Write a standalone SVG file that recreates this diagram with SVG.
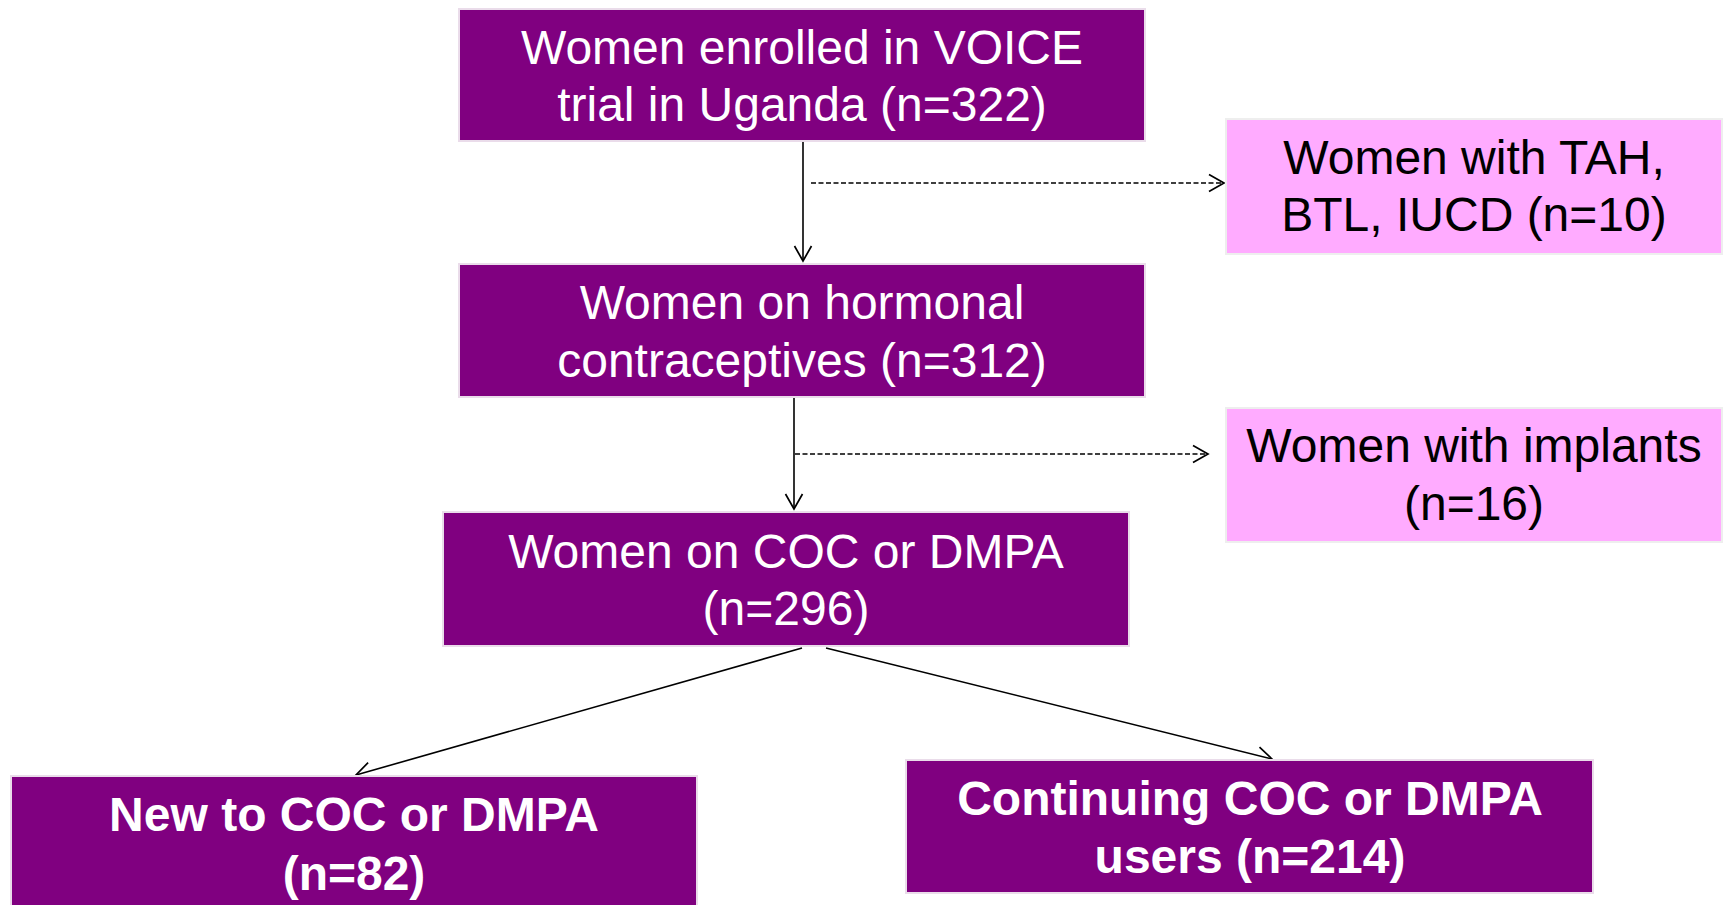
<svg xmlns="http://www.w3.org/2000/svg" width="1727" height="905" viewBox="0 0 1727 905">
<style>
.main{fill:#800080;stroke:#eadcea;stroke-width:2}
.side{fill:#FFABFF;stroke:#eeeeee;stroke-width:2}
.tw{font-family:"Liberation Sans",Arial,sans-serif;font-size:48px;fill:#ffffff;text-anchor:middle}
.tb{font-family:"Liberation Sans",Arial,sans-serif;font-size:48px;fill:#000000;text-anchor:middle}
.bold{font-weight:bold}
.ln{stroke:#000;stroke-width:1.6;fill:none}
.dash{stroke-dasharray:5 2.5}
</style>
<defs>
<marker id="arr" markerWidth="22" markerHeight="22" refX="16" refY="10" orient="auto" markerUnits="userSpaceOnUse">
<path d="M1,1.5 L16,10 L1,18.5" fill="none" stroke="#000" stroke-width="1.7"/>
</marker>
</defs>
<g id="connectors">
<line class="ln" x1="803" y1="141" x2="803" y2="261" marker-end="url(#arr)"/>
<line class="ln dash" x1="811" y1="183" x2="1224" y2="183" marker-end="url(#arr)"/>
<line class="ln" x1="794" y1="397" x2="794" y2="509" marker-end="url(#arr)"/>
<line class="ln dash" x1="795" y1="454" x2="1208" y2="454" marker-end="url(#arr)"/>
<line class="ln" x1="802" y1="648" x2="356" y2="775" marker-end="url(#arr)"/>
<line class="ln" x1="826" y1="648" x2="1272" y2="759" marker-end="url(#arr)"/>
</g>
<g id="n1">
<rect class="main" x="459" y="9" width="686" height="132"/>
<text class="tw" x="802" y="64">Women enrolled in VOICE</text>
<text class="tw" x="802" y="121">trial in Uganda (n=322)</text>
</g>
<g id="n2">
<rect class="side" x="1226" y="119" width="496" height="135"/>
<text class="tb" x="1474" y="174">Women with TAH,</text>
<text class="tb" x="1474" y="231">BTL, IUCD (n=10)</text>
</g>
<g id="n3">
<rect class="main" x="459" y="264" width="686" height="133"/>
<text class="tw" x="802" y="319">Women on hormonal</text>
<text class="tw" x="802" y="377">contraceptives (n=312)</text>
</g>
<g id="n4">
<rect class="side" x="1226" y="408" width="496" height="134"/>
<text class="tb" x="1474" y="462">Women with implants</text>
<text class="tb" x="1474" y="520">(n=16)</text>
</g>
<g id="n5">
<rect class="main" x="443" y="512" width="686" height="134"/>
<text class="tw" x="786" y="568">Women on COC or DMPA</text>
<text class="tw" x="786" y="625">(n=296)</text>
</g>
<g id="n6">
<rect class="main" x="11" y="776" width="686" height="135"/>
<text class="tw bold" x="354" y="831">New to COC or DMPA</text>
<text class="tw bold" x="354" y="890">(n=82)</text>
</g>
<g id="n7">
<rect class="main" x="906" y="760" width="687" height="133"/>
<text class="tw bold" x="1250" y="815">Continuing COC or DMPA</text>
<text class="tw bold" x="1250" y="873">users (n=214)</text>
</g>
</svg>
